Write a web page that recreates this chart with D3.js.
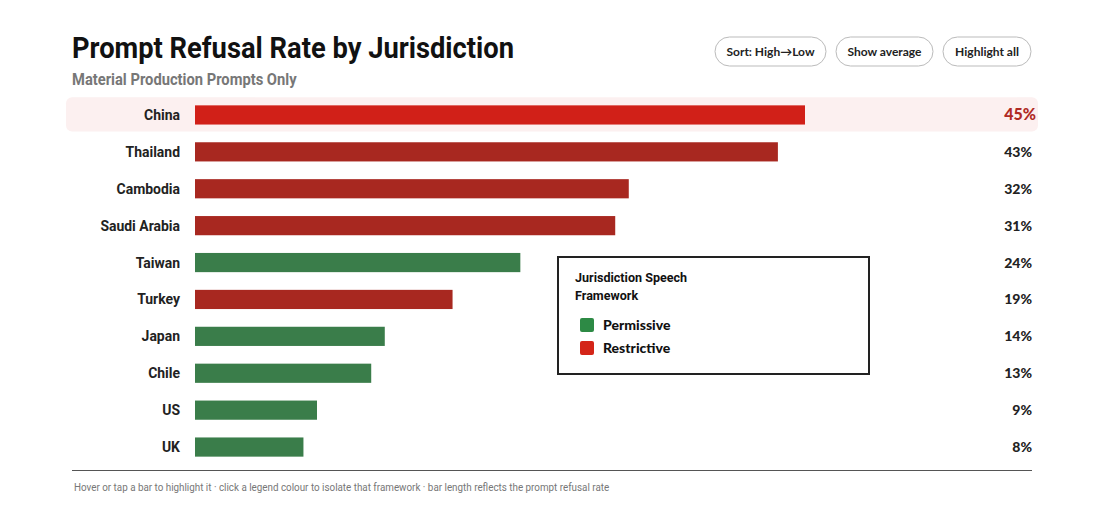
<!DOCTYPE html>
<html>
<head>
<meta charset="utf-8">
<script src="https://cdn.jsdelivr.net/npm/d3@7"></script>
<style>
  body { margin: 0; background: #fff; }
  svg { display: block; }
  .cond { font-family: Roboto, sans-serif; font-weight: 700; }
  .btn text { font-family: Lato, "Noto Sans", sans-serif; font-weight: 700; font-size: 12px; fill: #222; }
</style>
</head>
<body>
<svg id="chart" width="1110" height="511"></svg>
<script>
const countries = ['China', 'Thailand', 'Cambodia', 'Saudi Arabia', 'Taiwan', 'Turkey', 'Japan', 'Chile', 'US', 'UK'];
const rates = [45, 43, 32, 31, 24, 19, 14, 13, 9, 8];
const frameworks = ['Restrictive', 'Restrictive', 'Restrictive', 'Restrictive', 'Permissive', 'Restrictive', 'Permissive', 'Permissive', 'Permissive', 'Permissive'];
const legendItems = ['Permissive', 'Restrictive'];
const buttons = ['Sort: High\u2192Low', 'Show average', 'Highlight all'];

const svg = d3.select('#chart');

// squeeze Roboto a bit so it looks like the condensed face
function condense(sel, k) {
  sel.each(function() {
    const w = this.getComputedTextLength();
    d3.select(this).attr('textLength', w * k).attr('lengthAdjust', 'spacingAndGlyphs');
  });
}

const data = countries.map((c, i) => ({ name: c, value: rates[i], fw: frameworks[i] }));

const x = d3.scaleLinear().domain([0, 45]).range([195, 805]);
const y = d3.scaleBand().domain(countries).range([96.5, 465.5]).paddingInner(0.48).paddingOuter(0.24);

const barColor = { Permissive: '#3a7d4a', Restrictive: '#a82820' };
const swatchColor = { Permissive: '#2d8a45', Restrictive: '#d42518' };

// title
svg.append('text').attr('class', 'cond').attr('x', 72).attr('y', 58)
  .attr('font-size', 30).attr('fill', '#111').text('Prompt Refusal Rate by Jurisdiction')
  .call(condense, 0.91);
svg.append('text').attr('class', 'cond').attr('x', 72).attr('y', 85)
  .attr('font-size', 16).attr('fill', '#777').text('Material Production Prompts Only')
  .call(condense, 0.92);

// buttons
const btnX = [715, 836, 943];
const btnW = [111, 97, 88];
const btn = svg.selectAll('.btn').data(buttons).join('g').attr('class', 'btn')
  .attr('transform', (d, i) => `translate(${btnX[i]},37)`);
btn.append('rect').attr('width', (d, i) => btnW[i]).attr('height', 29).attr('rx', 14.5)
  .attr('fill', '#fff').attr('stroke', '#bbb');
btn.append('text').attr('x', (d, i) => btnW[i] / 2).attr('y', 19).attr('text-anchor', 'middle').text(d => d);

// highlight row for the top value
const first = data[0];
svg.append('rect').attr('x', 66).attr('y', y(first.name) - 8).attr('width', 972).attr('height', y.bandwidth() + 15)
  .attr('rx', 6).attr('fill', '#fcf0f0');

// bars
svg.selectAll('.bar').data(data).join('rect').attr('class', 'bar')
  .attr('x', x(0)).attr('y', d => y(d.name))
  .attr('width', d => x(d.value) - x(0)).attr('height', y.bandwidth())
  .attr('fill', (d, i) => i === 0 ? '#d12018' : barColor[d.fw]);

// country labels
svg.selectAll('.lbl').data(data).join('text').attr('class', 'cond lbl')
  .attr('x', 180).attr('y', d => y(d.name) + y.bandwidth() / 2 + 5)
  .attr('text-anchor', 'end').attr('font-size', 15).attr('fill', '#222')
  .text(d => d.name).call(condense, 0.93);

// value labels
svg.selectAll('.val').data(data).join('text').attr('class', 'val')
  .attr('x', (d, i) => i === 0 ? 1036 : 1032).attr('y', d => y(d.name) + y.bandwidth() / 2 + 5)
  .attr('text-anchor', 'end')
  .attr('font-family', 'Lato, "Noto Sans", sans-serif').attr('font-weight', 900)
  .attr('font-size', (d, i) => i === 0 ? 16 : 14)
  .attr('fill', (d, i) => i === 0 ? '#b02a24' : '#222')
  .text(d => d.value + '%');

// legend
const lg = svg.append('g').attr('transform', 'translate(558,257)');
lg.append('rect').attr('width', 311).attr('height', 117).attr('fill', '#fff').attr('stroke', '#222').attr('stroke-width', 2);
lg.append('text').attr('class', 'cond').attr('x', 17).attr('y', 25).attr('font-size', 13.5).attr('fill', '#111')
  .text('Jurisdiction Speech').call(condense, 0.93);
lg.append('text').attr('class', 'cond').attr('x', 17).attr('y', 43).attr('font-size', 13.5).attr('fill', '#111')
  .text('Framework').call(condense, 0.93);
const li = lg.selectAll('.li').data(legendItems).join('g').attr('class', 'li')
  .attr('transform', (d, i) => `translate(22,${61 + i * 23})`);
li.append('rect').attr('width', 14).attr('height', 14).attr('rx', 2).attr('fill', d => swatchColor[d]);
li.append('text').attr('x', 23).attr('y', 12)
  .attr('font-family', 'Lato, "Noto Sans", sans-serif').attr('font-weight', 900).attr('font-size', 14)
  .attr('fill', '#111').text(d => d);

// footer
svg.append('line').attr('x1', 72).attr('x2', 1032).attr('y1', 470.5).attr('y2', 470.5).attr('stroke', '#555');
svg.append('text').attr('x', 74).attr('y', 491)
  .attr('font-family', 'Roboto, sans-serif').attr('font-weight', 400).attr('font-size', 11.5).attr('fill', '#777')
  .text('Hover or tap a bar to highlight it \u00b7 click a legend colour to isolate that framework \u00b7 bar length reflects the prompt refusal rate')
  .call(condense, 0.855);
</script>
</body>
</html>
